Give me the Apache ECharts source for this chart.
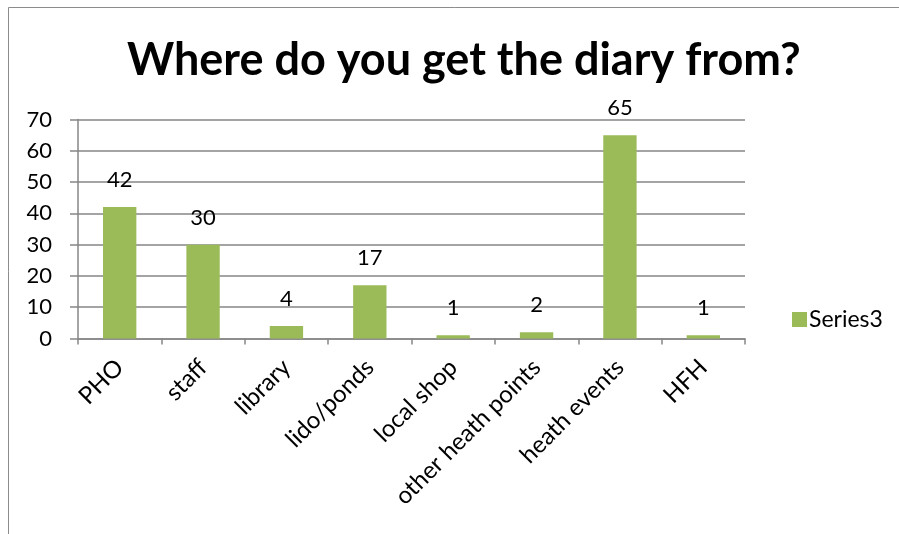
<!DOCTYPE html>
<html><head><meta charset="utf-8">
<script src="https://cdn.jsdelivr.net/npm/echarts@6/dist/echarts.min.js"></script>
<style>html,body{margin:0;padding:0;background:#fff}#c{width:899px;height:534px}</style>
</head><body><div id="c"></div>
<script>
const categories = ['PHO','staff','library','lido/ponds','local shop','other heath points','heath events','HFH'];
const series3 = [42,30,4,17,1,2,65,1];
const yTicks = [0,10,20,30,40,50,60,70];
const FONT = 'Lato';
const chart = echarts.init(document.getElementById('c'));
chart.setOption({
  animation:false,
  backgroundColor:'#fff',
  title:{text:'Where do you get the diary from?',left:127,top:38,padding:0,
    textStyle:{fontFamily:FONT,fontWeight:'bold',fontSize:45,color:'#000'}},
  graphic:[{type:'rect',shape:{x:8.5,y:7.5,width:1200,height:1200},style:{fill:null,stroke:'#8c8c8c',lineWidth:1},silent:true}],
  legend:{show:true,orient:'vertical',left:787,top:303,itemWidth:15,itemHeight:15,itemGap:6,
    textStyle:{fontFamily:FONT,fontSize:23,color:'#000',padding:[0,0,0,-3]},
    data:[{name:'Series3',icon:'rect'}]},
  grid:{left:78,right:154,top:119.5,bottom:195.5,containLabel:false},
  xAxis:{type:'category',data:categories,
    axisLine:{lineStyle:{color:'#868686',width:1.5}},
    axisTick:{show:true,length:6,alignWithLabel:false,lineStyle:{color:'#868686',width:1.5}},
    axisLabel:{rotate:45,interval:0,margin:25,fontFamily:FONT,fontSize:24,color:'#000'},
    splitLine:{show:false}},
  yAxis:{type:'value',min:0,max:70,interval:10,
    axisLine:{show:true,lineStyle:{color:'#868686',width:1.5}},
    axisTick:{show:true,length:8,lineStyle:{color:'#868686',width:1.5}},
    axisLabel:{margin:26,fontFamily:FONT,fontSize:22,color:'#000',
      formatter:v=>yTicks.includes(v)?String(v):''},
    splitLine:{show:true,lineStyle:{color:'#868686',width:1.5}}},
  series:[{name:'Series3',type:'bar',data:series3,barWidth:'40%',
    itemStyle:{color:'#9BBB59'},
    label:{show:true,position:'top',distance:16,fontFamily:FONT,fontSize:22,color:'#000'}}]
});
</script></body></html>
